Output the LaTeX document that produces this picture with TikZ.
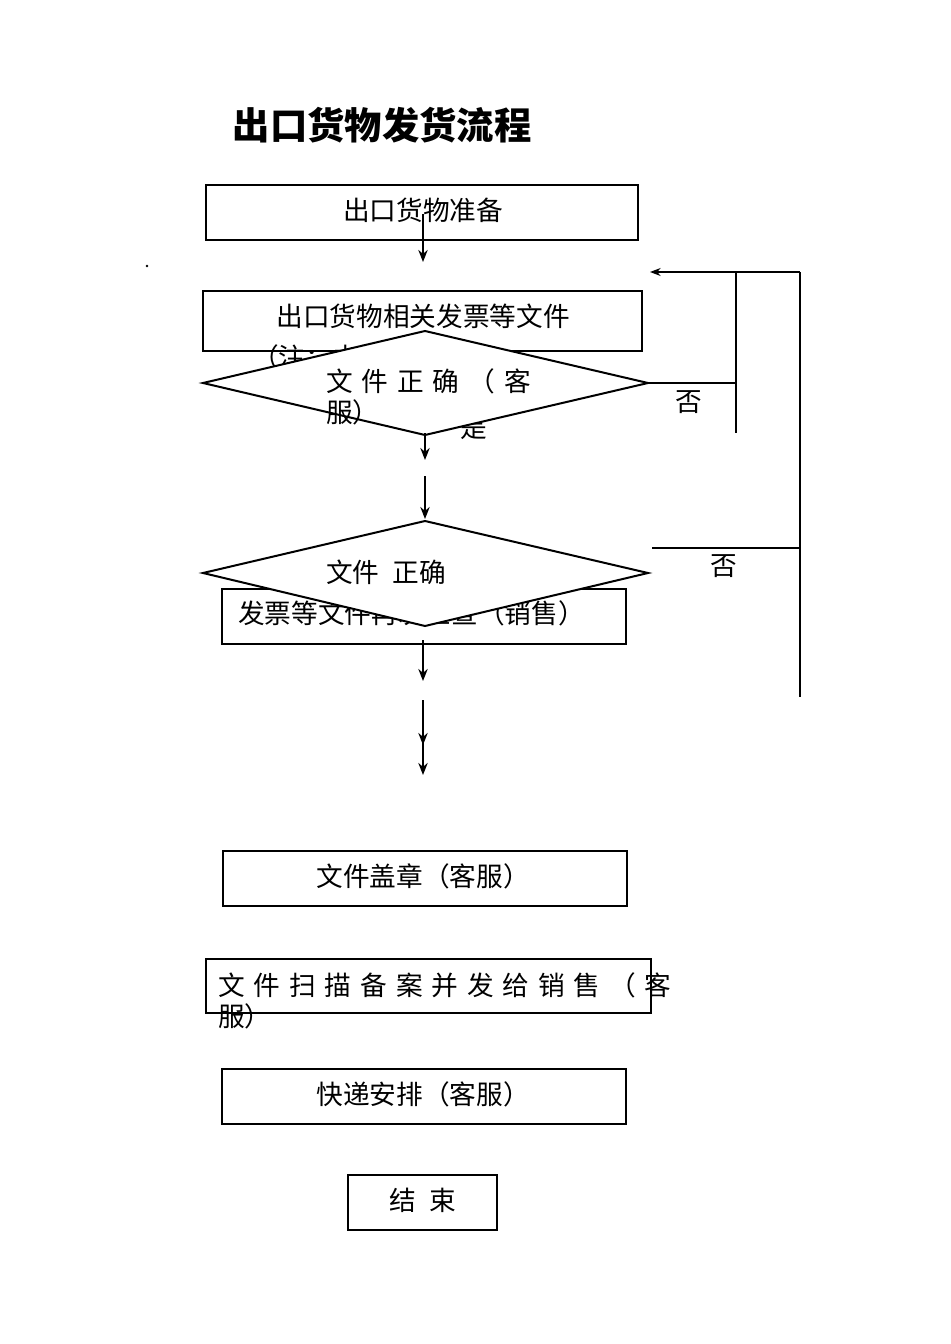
\documentclass[tikz,border=0pt]{standalone}
\usepackage{fontspec}
\setmainfont{Noto Sans CJK SC}
\usetikzlibrary{arrows.meta}
\begin{document}
\begin{tikzpicture}[x=0.75pt,y=-0.75pt,
  box/.style={draw,line width=1.5pt,fill=white},
  dia/.style={draw,line width=1.5pt,fill=white},
  txt/.style={font=\fontsize{20}{24}\selectfont,inner sep=0pt},
  arr/.style={line width=2pt,-{Stealth[length=9pt,width=7pt]}},
  thin/.style={line width=0.8pt}]
\useasboundingbox (0,0) rectangle (950,1344);
\node[font=\fontsize{28}{32}\selectfont\bfseries,anchor=west] (title) at (228,125) {出口货物发货流程};
% box1
\draw[box] (206,185) rectangle (638,240);
\node[txt] (t1) at (423,210) {出口货物准备};
\coordinate (a1s) at (423,214); \coordinate (a1e) at (423,262);
\draw[arr] (a1s) -- (a1e);
\fill (147,266) circle (1pt);
% feedback lines
\coordinate (f1) at (800,272); \coordinate (f2) at (650,272);
\draw[thin,-{Stealth[length=8pt,width=6pt]}] (f1) -- (f2);
\draw[thin] (800,272) -- (800,697);
\draw[thin] (736,272) -- (736,433);
\draw[thin] (648,383) -- (736,383);
\draw[thin] (652,548) -- (800,548);
\node[txt] (no1) at (689,402) {否};
\node[txt] (no2) at (724,566) {否};
% box2
\draw[box] (203,291) rectangle (642,351);
\node[txt] (t2) at (423,316) {出口货物相关发票等文件};
\node[txt,anchor=west] (note) at (252,357) {（注：由销售准};
\node[txt] (yes) at (474,428) {是};
% diamond1
\draw[dia] (203,383) -- (425,331) -- (648,383) -- (425,435) -- cycle;
\node[txt,anchor=west] (d1a) at (326,381) {文\,\,件\,\,正\,\,确\,\,（\,\,客};
\node[txt,anchor=west] (d1b) at (326,412) {服）};
\draw[arr] (425,433) -- (425,460);
\draw[arr] (425,476) -- (425,519);
% box3
\draw[box] (222,589) rectangle (626,644);
\node[txt,anchor=west] (t3) at (238,613) {发票等文件再次检查（销售）};
% diamond2
\draw[dia] (203,573) -- (425,521) -- (648,573) -- (425,626) -- cycle;
\node[txt,anchor=west] (d2) at (326,572) {文件\,\,\,正确};
\draw[arr] (423,640) -- (423,681);
\draw[arr] (423,700) -- (423,745);
\draw[arr] (423,730) -- (423,775);
% box4
\draw[box] (223,851) rectangle (627,906);
\node[txt] (t4) at (423,876) {文件盖章（客服）};
% box5
\draw[box] (206,959) rectangle (651,1013);
\node[txt,anchor=west] (t5a) at (218,985) {文\,\,件\,\,扫\,\,描\,\,备\,\,案\,\,并\,\,发\,\,给\,\,销\,\,售\,\,（\,\,客};
\node[txt,anchor=west] (t5b) at (218,1016) {服）};
% box6
\draw[box] (222,1069) rectangle (626,1124);
\node[txt] (t6) at (423,1094) {快递安排（客服）};
% box7
\draw[box] (348,1175) rectangle (497,1230);
\node[txt] (t7) at (423,1200) {结\,\,\,束};
\end{tikzpicture}
\end{document}
